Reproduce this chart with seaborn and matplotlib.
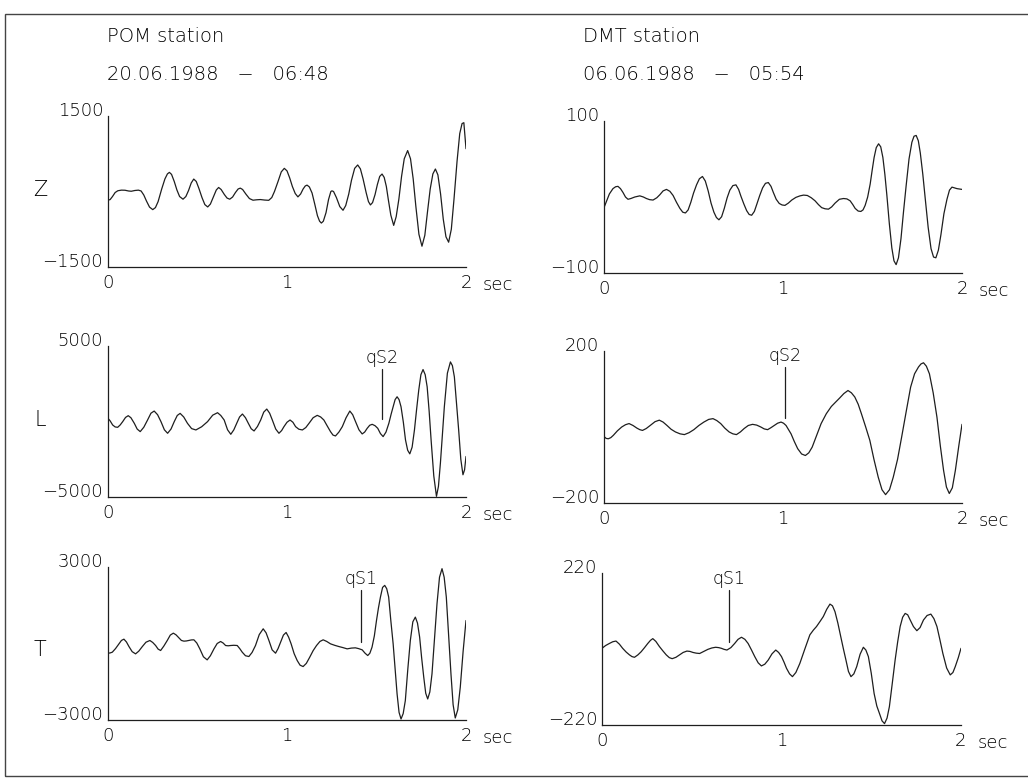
import numpy as np
import pandas as pd
import seaborn as sns
import matplotlib.pyplot as plt
from matplotlib.patches import Rectangle

sns.set_theme(style='white')
plt.rcParams['font.family'] = ['DejaVu Sans']
plt.rcParams['font.weight'] = 'light'

pom_z_t = [0.0, 0.012, 0.025, 0.040, 0.055, 0.075, 0.095, 0.115, 0.130, 0.150, 0.170, 0.185, 0.200, 0.215,
           0.232, 0.250, 0.265, 0.280, 0.300, 0.318, 0.332, 0.343, 0.355, 0.370, 0.385, 0.400, 0.419, 0.435,
           0.450, 0.465, 0.479, 0.493, 0.508, 0.525, 0.541, 0.557, 0.572, 0.590, 0.605, 0.618, 0.632, 0.650,
           0.665, 0.680, 0.696, 0.712, 0.727, 0.739, 0.752, 0.770, 0.790, 0.810, 0.830, 0.851, 0.875, 0.898,
           0.915, 0.930, 0.950, 0.968, 0.985, 1.000, 1.015, 1.030, 1.046, 1.061, 1.076, 1.090, 1.102, 1.112,
           1.125, 1.140, 1.155, 1.170, 1.182, 1.192, 1.203, 1.218, 1.232, 1.245, 1.251, 1.260, 1.276, 1.295,
           1.313, 1.328, 1.345, 1.360, 1.378, 1.395, 1.410, 1.425, 1.442, 1.455, 1.466, 1.478, 1.492, 1.505,
           1.518, 1.531, 1.543, 1.555, 1.566, 1.580, 1.596, 1.610, 1.625, 1.640, 1.655, 1.674, 1.690, 1.705,
           1.720, 1.737, 1.754, 1.770, 1.785, 1.800, 1.815, 1.829, 1.843, 1.858, 1.873, 1.888, 1.903, 1.918,
           1.933, 1.950, 1.965, 1.978, 1.988, 2.0]
pom_z_v = [-173, -160, -100, -20, 15, 27, 25, 10, 5, 20, 27, 10, -70, -190,
           -310, -360, -320, -200, 50, 250, 350, 380, 340, 200, 30, -100, -153, -100,
           20, 170, 247, 200, 60, -120, -260, -307, -250, -100, 30, 80, 40, -60,
           -130, -153, -110, -20, 50, 67, 40, -50, -140, -173, -165, -160, -170, -175,
           -120, 0, 200, 390, 460, 410, 270, 100, -40, -107, -50, 50, 110, 127,
           90, -30, -250, -480, -590, -627, -590, -420, -160, 0, 13, 0, -120, -300,
           -373, -280, -50, 220, 460, 527, 450, 250, -20, -200, -267, -220, -60, 140,
           300, 347, 280, 100, -160, -470, -673, -500, -150, 300, 650, 813, 650, 250,
           -300, -850, -1087, -870, -400, 50, 350, 447, 330, -50, -550, -900, -1007, -750,
           -150, 600, 1150, 1350, 1367, 850]

dmt_z_t = [0.0, 0.015, 0.030, 0.050, 0.065, 0.078, 0.092, 0.106, 0.120, 0.134, 0.150, 0.172, 0.200, 0.220,
           0.237, 0.255, 0.274, 0.295, 0.312, 0.330, 0.349, 0.368, 0.386, 0.405, 0.424, 0.440, 0.455, 0.470,
           0.485, 0.500, 0.517, 0.533, 0.550, 0.566, 0.582, 0.598, 0.614, 0.628, 0.642, 0.657, 0.672, 0.688,
           0.703, 0.720, 0.737, 0.752, 0.765, 0.781, 0.797, 0.811, 0.825, 0.840, 0.853, 0.870, 0.886, 0.902,
           0.918, 0.933, 0.946, 0.962, 0.979, 0.995, 1.011, 1.030, 1.049, 1.072, 1.095, 1.115, 1.136, 1.158,
           1.179, 1.198, 1.216, 1.235, 1.254, 1.272, 1.291, 1.315, 1.338, 1.357, 1.375, 1.390, 1.403, 1.420,
           1.435, 1.447, 1.459, 1.473, 1.487, 1.498, 1.509, 1.521, 1.534, 1.546, 1.558, 1.569, 1.580, 1.594,
           1.608, 1.620, 1.632, 1.645, 1.659, 1.673, 1.688, 1.704, 1.720, 1.732, 1.744, 1.756, 1.767, 1.781,
           1.795, 1.811, 1.827, 1.841, 1.854, 1.868, 1.882, 1.899, 1.916, 1.930, 1.944, 1.958, 1.972, 2.0]
dmt_z_v = [-14, -5, 4, 11, 13.5, 14, 11, 6, 0, -3, -2, 0, 1.5, 0,
           -2, -3.5, -4, -1, 3, 8, 10, 7.5, 2, -7, -15, -20, -21, -17,
           -7, 5, 16, 24, 27, 21, 8, -8, -20, -27, -30, -26, -15, -1,
           9, 15, 16, 10, 1, -9, -18, -23, -24, -19, -10, 2, 12, 18,
           19, 14, 6, -3, -8.5, -10.5, -11, -8, -4, -0.5, 1.5, 2.5, 2, -1,
           -5, -10, -14, -15.5, -16, -13, -8, -3, -2, -2.5, -5, -10, -15, -18.5,
           -19, -17, -11, 0, 17, 35, 52, 65, 70, 66, 52, 30, 3, -35,
           -67, -84, -89, -80, -55, -20, 15, 50, 72, 80, 81, 74, 58, 30,
           -3, -40, -68, -79, -80, -70, -50, -22, -3, 9, 13, 12, 11, 10]

pom_l_t = [0.0, 0.012, 0.026, 0.040, 0.054, 0.068, 0.082, 0.098, 0.113, 0.128, 0.147, 0.163, 0.180, 0.200,
           0.221, 0.240, 0.258, 0.277, 0.296, 0.315, 0.333, 0.352, 0.370, 0.387, 0.403, 0.423, 0.444, 0.467,
           0.491, 0.523, 0.556, 0.585, 0.612, 0.630, 0.649, 0.668, 0.686, 0.703, 0.719, 0.735, 0.751, 0.768,
           0.784, 0.800, 0.816, 0.835, 0.853, 0.870, 0.887, 0.903, 0.918, 0.937, 0.955, 0.970, 0.983, 1.000,
           1.017, 1.033, 1.048, 1.066, 1.086, 1.105, 1.123, 1.146, 1.169, 1.188, 1.206, 1.225, 1.243, 1.257,
           1.271, 1.290, 1.309, 1.330, 1.351, 1.367, 1.383, 1.402, 1.420, 1.434, 1.448, 1.462, 1.476, 1.492,
           1.507, 1.522, 1.537, 1.553, 1.569, 1.582, 1.593, 1.604, 1.615, 1.626, 1.637, 1.650, 1.662, 1.674,
           1.686, 1.699, 1.712, 1.724, 1.736, 1.748, 1.760, 1.772, 1.783, 1.794, 1.805, 1.820, 1.835, 1.846,
           1.857, 1.868, 1.879, 1.896, 1.913, 1.924, 1.935, 1.947, 1.959, 1.971, 1.983, 1.992, 2.0]
pom_l_v = [209, 40, -231, -360, -385, -230, -11, 270, 385, 250, -121, -500, -670, -380,
           99, 550, 692, 450, -11, -550, -780, -500, -11, 400, 538, 300, -121, -470,
           -560, -350, -11, 420, 582, 400, 99, -550, -846, -550, -121, 300, 495, 250,
           -121, -480, -626, -330, 99, 620, 824, 550, 99, -500, -780, -600, -341, -50,
           99, -50, -341, -510, -560, -400, -121, 250, 407, 300, 99, -300, -670, -900,
           -956, -700, -341, 250, 692, 450, -11, -550, -824, -700, -451, -250, -187, -280,
           -451, -800, -1000, -700, -121, 500, 978, 1450, 1637, 1450, 978, -50, -1220, -1900,
           -2143, -1700, -560, 800, 2077, 3100, 3440, 3100, 2297, 700, -1220, -3600, -4956, -4300,
           -2758, -900, 978, 3200, 3945, 3700, 2956, 1200, -560, -2500, -3527, -3200, -2318]

dmt_l_t = [0.0, 0.012, 0.024, 0.038, 0.052, 0.075, 0.099, 0.120, 0.140, 0.162, 0.184, 0.200, 0.215, 0.236,
           0.258, 0.285, 0.309, 0.330, 0.352, 0.375, 0.399, 0.425, 0.449, 0.475, 0.502, 0.530, 0.558, 0.585,
           0.609, 0.630, 0.652, 0.675, 0.699, 0.720, 0.740, 0.762, 0.783, 0.806, 0.830, 0.853, 0.876, 0.895,
           0.914, 0.932, 0.951, 0.970, 0.989, 1.003, 1.017, 1.031, 1.045, 1.063, 1.082, 1.104, 1.125, 1.144,
           1.163, 1.188, 1.213, 1.242, 1.270, 1.295, 1.316, 1.340, 1.363, 1.382, 1.401, 1.420, 1.438, 1.462,
           1.485, 1.508, 1.532, 1.553, 1.573, 1.595, 1.616, 1.640, 1.663, 1.688, 1.713, 1.735, 1.757, 1.771,
           1.785, 1.801, 1.818, 1.839, 1.860, 1.879, 1.897, 1.913, 1.929, 1.946, 1.963, 1.982, 2.0]
dmt_l_v = [-25, -30, -31, -28, -22, -10, 0, 6, 9, 4, -3, -7, -9, -4,
           4, 14, 18, 13, 4, -6, -13, -18, -20, -15, -7, 4, 13, 20,
           22, 17, 9, -3, -13, -18, -20, -13, -4, 4, 7, 5, 0, -5,
           -7, -2, 4, 10, 13, 10, 4, -7, -18, -38, -57, -71, -75, -68,
           -53, -22, 9, 35, 54, 66, 76, 88, 96, 90, 79, 60, 35, 0,
           -35, -85, -132, -165, -178, -165, -132, -85, -26, 40, 105, 140, 158, 166,
           169, 160, 140, 90, 26, -50, -114, -158, -175, -160, -114, -50, 7]

pom_t_t = [0.0, 0.012, 0.024, 0.042, 0.061, 0.075, 0.089, 0.103, 0.117, 0.135, 0.154, 0.172, 0.192, 0.212,
           0.234, 0.250, 0.266, 0.280, 0.294, 0.312, 0.331, 0.348, 0.365, 0.380, 0.396, 0.410, 0.424, 0.438,
           0.452, 0.466, 0.480, 0.496, 0.513, 0.533, 0.554, 0.572, 0.592, 0.610, 0.629, 0.643, 0.657, 0.671,
           0.685, 0.703, 0.722, 0.736, 0.750, 0.768, 0.787, 0.805, 0.824, 0.845, 0.867, 0.883, 0.899, 0.917,
           0.936, 0.950, 0.964, 0.980, 0.995, 1.009, 1.023, 1.040, 1.057, 1.073, 1.090, 1.108, 1.127, 1.146,
           1.165, 1.184, 1.202, 1.222, 1.243, 1.266, 1.289, 1.312, 1.336, 1.360, 1.382, 1.400, 1.420, 1.436,
           1.451, 1.463, 1.475, 1.488, 1.500, 1.511, 1.522, 1.534, 1.546, 1.557, 1.568, 1.580, 1.593, 1.604,
           1.615, 1.626, 1.637, 1.649, 1.661, 1.675, 1.689, 1.703, 1.717, 1.729, 1.741, 1.752, 1.764, 1.775,
           1.786, 1.798, 1.810, 1.824, 1.838, 1.852, 1.866, 1.878, 1.890, 1.903, 1.916, 1.928, 1.940, 1.954,
           1.968, 1.984, 2.0]
pom_t_v = [-380, -370, -341, -200, -13, 120, 170, 60, -118, -320, -406, -300, -118, 50,
           118, 40, -79, -220, -275, -100, 118, 330, 406, 340, 223, 120, 92, 100,
           118, 140, 144, 20, -210, -520, -642, -480, -210, 0, 79, 20, -79, -90,
           -79, -70, -79, -200, -341, -480, -511, -350, -79, 350, 576, 420, 118, -250,
           -380, -200, 52, 330, 432, 250, -13, -400, -668, -850, -904, -780, -537, -280,
           -79, 80, 144, 80, -13, -70, -118, -160, -210, -180, -170, -200, -249, -380,
           -472, -380, -144, 300, 904, 1400, 1821, 2200, 2279, 2150, 1821, 900, -13, -1000,
           -1978, -2700, -2961, -2750, -2240, -1000, 118, 850, 1035, 800, 249, -550, -1323, -1950,
           -2175, -1900, -1192, 200, 1559, 2600, 2934, 2600, 1821, 300, -1192, -2400, -2921, -2600,
           -1716, -300, 900]

dmt_t_t = [0.0, 0.020, 0.041, 0.060, 0.078, 0.097, 0.115, 0.135, 0.153, 0.167, 0.181, 0.200, 0.218, 0.237,
           0.255, 0.270, 0.283, 0.300, 0.320, 0.340, 0.358, 0.375, 0.391, 0.412, 0.432, 0.452, 0.473, 0.490,
           0.507, 0.525, 0.544, 0.567, 0.590, 0.612, 0.633, 0.650, 0.665, 0.680, 0.696, 0.718, 0.739, 0.758,
           0.777, 0.796, 0.814, 0.833, 0.851, 0.870, 0.888, 0.907, 0.926, 0.947, 0.968, 0.984, 1.000, 1.014,
           1.028, 1.045, 1.061, 1.080, 1.102, 1.130, 1.158, 1.178, 1.195, 1.215, 1.233, 1.252, 1.270, 1.284,
           1.298, 1.314, 1.330, 1.345, 1.359, 1.373, 1.387, 1.403, 1.419, 1.438, 1.456, 1.470, 1.484, 1.500,
           1.516, 1.531, 1.546, 1.560, 1.574, 1.588, 1.601, 1.617, 1.633, 1.647, 1.661, 1.675, 1.689, 1.703,
           1.717, 1.735, 1.754, 1.772, 1.791, 1.811, 1.832, 1.849, 1.866, 1.882, 1.899, 1.920, 1.940, 1.955,
           1.968, 1.985, 2.0]
dmt_t_v = [2, 10, 16, 21, 23, 14, 2, -9, -17, -22, -24, -17, -8, 4,
           16, 25, 30, 22, 7, -6, -17, -25, -28, -24, -17, -10, -6, -7,
           -10, -12, -13, -7, -1, 3, 5, 4, 2, -1, -3, 4, 16, 28,
           34, 28, 16, -3, -22, -40, -49, -44, -32, -14, -3, -10, -22, -38,
           -56, -72, -80, -68, -42, 0, 41, 55, 65, 80, 94, 115, 130, 125,
           108, 75, 36, 0, -32, -65, -80, -72, -51, -15, 5, -3, -22, -70,
           -129, -165, -187, -208, -216, -200, -167, -100, -32, 20, 65, 92, 103, 99,
           84, 65, 53, 62, 84, 97, 101, 88, 65, 28, -13, -55, -75, -68,
           -51, -25, 2]

# ---- panel settings ----
ylims = [1500, 100, 5000, 200, 3000, 220]
traces = [(pom_z_t, pom_z_v), (dmt_z_t, dmt_z_v), (pom_l_t, pom_l_v),
          (dmt_l_t, dmt_l_v), (pom_t_t, pom_t_v), (dmt_t_t, dmt_t_v)]
# phase picks: panel index, time, line bottom, line top, label
picks = [(2, 1.532, 143, 3473, 'qS2'), (3, 1.011, 25, 158, 'qS2'),
         (4, 1.414, 66, 2083, 'qS1'), (5, 0.708, 21, 171, 'qS1')]
components = ['Z', 'L', 'T']
stations = ['POM station', 'DMT station']
dates = ['20.06.1988   \u2212   06:48', '06.06.1988   \u2212   05:54']

W, H = 1028, 782
# axes boxes in pixels: left, top, right, bottom
boxes = [(108, 116, 466, 267), (604, 121, 962, 273),
         (108, 346, 466, 497), (604, 351, 962, 503),
         (108, 567, 466, 720), (602, 573, 961, 725)]

fig = plt.figure(figsize=(W / 100, H / 100), dpi=100)
ink = '#1e1e1e'
txt = '#000000'
fs = 13

for i, (l, t, r, b) in enumerate(boxes):
    ax = fig.add_axes([l / W, 1 - b / H, (r - l) / W, (b - t) / H])
    x, y = traces[i]
    df = pd.DataFrame({'t': x, 'v': y})
    sns.lineplot(data=df, x='t', y='v', ax=ax, color=ink, linewidth=0.9,
                 estimator=None, sort=False)
    m = ylims[i]
    ax.set_xlim(0, 2)
    ax.set_ylim(-m, m)
    ax.set_xlabel('')
    ax.set_ylabel('')
    ax.patch.set_alpha(0)
    for s in ['top', 'right']:
        ax.spines[s].set_visible(False)
    for s in ['left', 'bottom']:
        ax.spines[s].set_color(ink)
        ax.spines[s].set_linewidth(0.9)
    ax.set_xticks([0, 1, 2])
    ax.set_xticklabels(['0', '1', '2'])
    ax.set_yticks([-m, 0, m])
    ax.set_yticklabels(['\u2212' + str(m), '', str(m)])
    ax.tick_params(axis='both', direction='out', length=3, width=0.8, color=ink,
                   labelsize=fs, labelcolor=txt)
    ax.tick_params(axis='x', pad=2)
    ax.tick_params(axis='y', pad=0.5)
    for lab in ax.get_yticklabels():
        lab.set_va('baseline')
    ax.annotate('sec', xy=(1, 0), xycoords='axes fraction', xytext=(12, -16.5),
                textcoords='offset points', ha='left', va='baseline',
                fontsize=fs, color=txt)
    for p in picks:
        if p[0] == i:
            ax.plot([p[1], p[1]], [p[2], p[3]], color=ink, linewidth=0.9)
            ax.annotate(p[4], xy=(p[1], p[3]), xycoords='data', xytext=(0, 1.5),
                        textcoords='offset points', ha='center', va='bottom',
                        fontsize=12.5, color=txt)

# component labels
for name, yc in zip(components, [190, 420, 650]):
    fig.text(40 / W, 1 - yc / H, name, ha='center', va='center', fontsize=15, color=txt)

# station headers
for k, xl in enumerate([107, 583]):
    fig.text(xl / W, 1 - 37 / H, stations[k], ha='left', va='center', fontsize=14, color=txt)
    fig.text(xl / W, 1 - 75 / H, dates[k], ha='left', va='center', fontsize=14, color=txt)

# page frame
fig.add_artist(Rectangle((5 / W, 1 - 776 / H), 1.05, (776 - 14) / H,
                         transform=fig.transFigure, fill=False, edgecolor='#444444',
                         linewidth=1.0, clip_on=False))

fig.savefig('out.png', dpi=100)
